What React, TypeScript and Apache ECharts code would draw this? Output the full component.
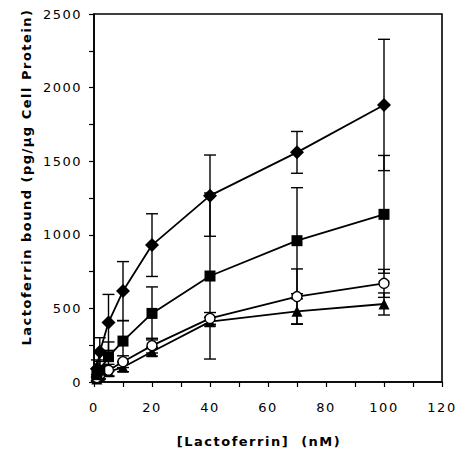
import React, { useEffect, useRef } from "react";
import * as echarts from "echarts";

const concentrations = [1, 2, 5, 10, 20, 40, 70, 100];
const diamondMean = [90, 206, 405, 618, 930, 1266, 1560, 1882];
const diamondErr = [60, 95, 190, 200, 213, 276, 142, 446];
const squareMean = [50, 80, 172, 278, 466, 720, 960, 1139];
const squareErr = [40, 60, 100, 138, 180, 564, 360, 400];
const circleMean = [30, 50, 80, 138, 247, 432, 580, 670];
const circleErr = [20, 30, 40, 40, 50, 40, 188, 95];
const triangleMean = [20, 40, 70, 100, 206, 410, 480, 530];
const triangleErr = [15, 20, 30, 30, 30, 30, 85, 75];

const xTicks = { min: 0, max: 120, interval: 20 };
const yTicks = { min: 0, max: 2500, interval: 500 };

const xTitle = "[Lactoferrin]  (nM)";
const yTitle = "Lactoferrin bound (pg/\u03bcg Cell Protein)";

const FONT = "DejaVu Sans";

function pts(means: number[]) {
  return concentrations.map((c, i) => [c, means[i]]);
}
function errs(means: number[], e: number[]) {
  return concentrations.map((c, i) => [c, Math.max(0, means[i] - e[i]), means[i] + e[i]]);
}

function errSeries(means: number[], e: number[]) {
  return {
    type: "custom",
    z: 1,
    data: errs(means, e),
    renderItem: (_p: any, api: any) => {
      const x = api.value(0);
      const lo = api.coord([x, api.value(1)]);
      const hi = api.coord([x, api.value(2)]);
      const w = 6;
      const st = { stroke: "#000", lineWidth: 1.4 };
      return {
        type: "group",
        children: [
          { type: "line", shape: { x1: hi[0], y1: hi[1], x2: lo[0], y2: lo[1] }, style: st },
          { type: "line", shape: { x1: hi[0] - w, y1: hi[1], x2: hi[0] + w, y2: hi[1] }, style: st },
          { type: "line", shape: { x1: lo[0] - w, y1: lo[1], x2: lo[0] + w, y2: lo[1] }, style: st },
        ],
      };
    },
  };
}

function lineSeries(means: number[], symbol: string, size: number | number[], fill: string) {
  return {
    type: "line",
    z: 3,
    data: pts(means),
    symbol,
    symbolSize: size,
    showSymbol: true,
    lineStyle: { color: "#000", width: 1.8 },
    itemStyle: { color: fill, borderColor: "#000", borderWidth: fill === "#fff" ? 1.4 : 0 },
  };
}

export default function App() {
  const ref = useRef<HTMLDivElement>(null);
  useEffect(() => {
    if (!ref.current) return;
    const chart = echarts.init(ref.current, null, { renderer: "svg" });
    const axisCommon = {
      axisLine: { show: true, lineStyle: { color: "#000", width: 1.6 } },
      axisTick: { show: true, inside: false, length: 5, lineStyle: { color: "#000", width: 1.2 } },
      minorTick: { show: true, splitNumber: 2, length: 5, lineStyle: { color: "#000", width: 1.2 } },
      splitLine: { show: false },
    };
    chart.setOption({
      animation: false,
      textStyle: { fontFamily: FONT },
      grid: {
        left: 94,
        right: 16,
        top: 14,
        bottom: 69,
        show: true,
        borderColor: "#000",
        borderWidth: 1.6,
        backgroundColor: "transparent",
      },
      xAxis: {
        type: "value",
        ...xTicks,
        ...axisCommon,
        axisLabel: { color: "#000", fontSize: 13, fontFamily: FONT, margin: 19, formatter: (v: number) => String(v) },
      },
      yAxis: {
        type: "value",
        ...yTicks,
        ...axisCommon,
        axisLabel: { color: "#000", fontSize: 13, fontFamily: FONT, margin: 12, formatter: (v: number) => String(v) },
      },
      graphic: [
        {
          type: "text",
          x: 259,
          y: 441,
          style: {
            text: xTitle,
            fontFamily: FONT,
            fontWeight: "bold",
            fontSize: 13,
            fill: "#000",
            align: "center",
            verticalAlign: "middle",
          },
        },
        {
          type: "text",
          x: 26,
          y: 177,
          rotation: Math.PI / 2,
          style: {
            text: yTitle,
            fontFamily: FONT,
            fontWeight: "bold",
            fontSize: 13,
            fill: "#000",
            align: "center",
            verticalAlign: "middle",
          },
        },
      ],
      series: [
        errSeries(diamondMean, diamondErr),
        errSeries(squareMean, squareErr),
        errSeries(circleMean, circleErr),
        errSeries(triangleMean, triangleErr),
        lineSeries(triangleMean, "triangle", 11, "#000"),
        lineSeries(circleMean, "circle", 10, "#fff"),
        lineSeries(squareMean, "rect", 11, "#000"),
        lineSeries(diamondMean, "diamond", 14, "#000"),
      ],
    });
    return () => chart.dispose();
  }, []);
  return (
    <div
      ref={ref}
      style={{ position: "fixed", left: 0, top: 0, width: 458, height: 451, background: "#fff", letterSpacing: "1.5px" }}
    />
  );
}
